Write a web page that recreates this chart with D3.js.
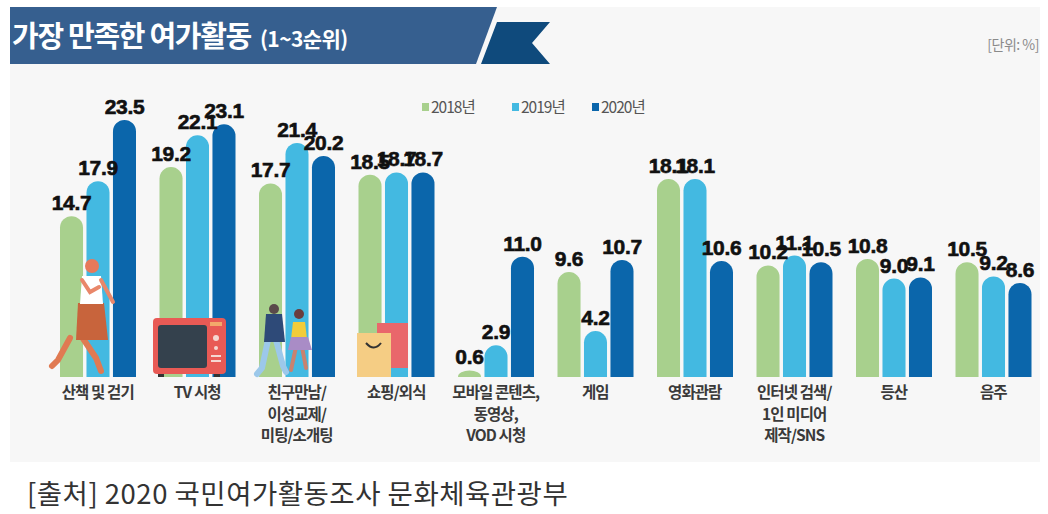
<html>
<head>
<meta charset="utf-8">
<style>
  body { margin: 0; background: #fff; }
  text { font-family: "Noto Sans CJK KR", "Noto Sans", sans-serif; }
</style>
</head>
<body>
<script src="https://d3js.org/d3.v7.min.js"></script>
<div id="main"></div>
<script>
// data
const categories = [
  ["산책 및 걷기"],
  ["TV 시청"],
  ["친구만남/", "이성교제/", "미팅/소개팅"],
  ["쇼핑/외식"],
  ["모바일 콘텐츠,", "동영상,", "VOD 시청"],
  ["게임"],
  ["영화관람"],
  ["인터넷 검색/", "1인 미디어", "제작/SNS"],
  ["등산"],
  ["음주"]
];
const years = ["2018년", "2019년", "2020년"];
const v2018 = [14.7, 19.2, 17.7, 18.5, 0.6, 9.6, 18.1, 10.2, 10.8, 10.5];
const v2019 = [17.9, 22.1, 21.4, 18.7, 2.9, 4.2, 18.1, 11.1, 9.0, 9.2];
const v2020 = [23.5, 23.1, 20.2, 18.7, 11.0, 10.7, 10.6, 10.5, 9.1, 8.6];
const colors = ["#a8d08d", "#43b9e1", "#0b66ab"];

const W = 1048, H = 514;
const baseY = 377;

const svg = d3.select("#main").append("svg")
  .attr("width", W).attr("height", H);

// grey panel
svg.append("rect").attr("x", 10).attr("y", 7).attr("width", 1030).attr("height", 455)
  .attr("fill", "#f7f7f7");

// title banner
svg.append("polygon").attr("points", "10,7 497,7 476,64 10,64").attr("fill", "#365f8f");
svg.append("polygon").attr("points", "497,22 550,22 532,43 550,64 481,64").attr("fill", "#0f4a7c");
svg.append("text").attr("x", 12).attr("y", 47)
  .attr("fill", "#fff").attr("font-size", 29).attr("font-weight", 700)
  .attr("letter-spacing", -1.3)
  .text("가장 만족한 여가활동")
  .append("tspan").attr("font-size", 21).attr("dx", 9).attr("letter-spacing", -0.6).text("(1~3순위)");

svg.append("text").attr("x", 1039).attr("y", 50).attr("text-anchor", "end")
  .attr("fill", "#8a8a8a").attr("font-size", 14).attr("letter-spacing", -0.5)
  .text("[단위: %]");

// scales
const x = d3.scaleBand().domain(d3.range(categories.length)).range([48, 1043]);
const xs = d3.scaleBand().domain([0, 1, 2]).range([12, 88]).paddingInner(0.13);
const y = d3.scaleLinear().domain([0, 23.5]).range([baseY, 120]);

// legend
const legX = [422, 512, 592];
const leg = svg.append("g");
years.forEach((yr, i) => {
  leg.append("rect").attr("x", legX[i]).attr("y", 103).attr("width", 7).attr("height", 8).attr("fill", colors[i]);
  leg.append("text").attr("x", legX[i] + 9).attr("y", 113)
    .attr("font-size", 15.5).attr("fill", "#555").attr("letter-spacing", -1)
    .text(yr);
});

// bars
const series = [v2018, v2019, v2020];
function barPath(x0, w, v) {
  const top = y(v), h = baseY - top;
  const r = w / 2, ry = Math.min(r, h);
  return `M${x0},${baseY} L${x0},${top + ry} A${r},${ry} 0 0 1 ${x0 + w},${top + ry} L${x0 + w},${baseY} Z`;
}
const bars = svg.append("g");
series.forEach((vals, s) => {
  bars.selectAll(null).data(vals).enter().append("path")
    .attr("d", (d, i) => barPath(x(i) + xs(s), xs.bandwidth(), d))
    .attr("fill", colors[s]);
});

// illustrations on top of bars
const pic = svg.append("g");
// walking man
pic.append("path").attr("d", "M70,338 L58,360 L52,366 M82,337 L96,358 L101,371")
  .attr("stroke", "#e07a52").attr("stroke-width", 6).attr("fill", "none").attr("stroke-linecap", "round");
pic.append("path").attr("d", "M78,303 L104,303 L108,340 L76,340 Z").attr("fill", "#c8643c");
pic.append("path").attr("d", "M82,276 L101,276 L103,304 L80,304 Z").attr("fill", "#fff");
pic.append("circle").attr("cx", 92).attr("cy", 266).attr("r", 7).attr("fill", "#e7795a");
pic.append("path").attr("d", "M101,280 L113,302 M82,280 L90,292 L99,287")
  .attr("stroke", "#e9876a").attr("stroke-width", 4).attr("fill", "none").attr("stroke-linecap", "round");

// TV / microwave
pic.append("rect").attr("x", 153).attr("y", 318).attr("width", 73).attr("height", 56).attr("rx", 4).attr("fill", "#e85a55");
pic.append("rect").attr("x", 158).attr("y", 325).attr("width", 49).attr("height", 43).attr("rx", 3).attr("fill", "#34414d");
pic.append("circle").attr("cx", 216).attr("cy", 338).attr("r", 3).attr("fill", "#f5d7d2");
pic.append("circle").attr("cx", 216).attr("cy", 348).attr("r", 2).attr("fill", "#f5d7d2");
pic.append("rect").attr("x", 211).attr("y", 355).attr("width", 10).attr("height", 2).attr("fill", "#f5d7d2");
pic.append("rect").attr("x", 211).attr("y", 360).attr("width", 10).attr("height", 2).attr("fill", "#f5d7d2");
pic.append("rect").attr("x", 210).attr("y", 322).attr("width", 12).attr("height", 4).attr("fill", "#f3a96b");
pic.append("rect").attr("x", 158).attr("y", 374).attr("width", 6).attr("height", 3).attr("fill", "#333");
pic.append("rect").attr("x", 214).attr("y", 374).attr("width", 6).attr("height", 3).attr("fill", "#333");

// couple
pic.append("path").attr("d", "M268,340 L262,368 L257,374 M276,340 L283,366 L286,372")
  .attr("stroke", "#9cc8ea").attr("stroke-width", 6).attr("fill", "none").attr("stroke-linecap", "round");
pic.append("path").attr("d", "M266,314 L282,314 L285,342 L264,342 Z").attr("fill", "#2e4a78");
pic.append("circle").attr("cx", 274).attr("cy", 309).attr("r", 5).attr("fill", "#5a4a4a");
pic.append("path").attr("d", "M296,347 L291,370 M302,347 L306,368")
  .attr("stroke", "#c9826f").attr("stroke-width", 4).attr("fill", "none").attr("stroke-linecap", "round");
pic.append("path").attr("d", "M293,322 L305,322 L307,339 L291,339 Z").attr("fill", "#f2cc3a");
pic.append("path").attr("d", "M291,337 L308,337 L312,350 L288,350 Z").attr("fill", "#a98cc6");
pic.append("circle").attr("cx", 299).attr("cy", 314).attr("r", 5).attr("fill", "#6a3d3d");

// shopping bags
pic.append("rect").attr("x", 377).attr("y", 323).attr("width", 31).attr("height", 45).attr("fill", "#e9676b");
pic.append("rect").attr("x", 357).attr("y", 333).attr("width", 34).attr("height", 44).attr("fill", "#f5cd84");
pic.append("path").attr("d", "M366,343 Q374,352 381,343").attr("stroke", "#333").attr("stroke-width", 2).attr("fill", "none");

// value labels
const labels = svg.append("g");
series.forEach((vals, s) => {
  labels.selectAll(null).data(vals).enter().append("text")
    .attr("x", (d, i) => x(i) + xs(s) + xs.bandwidth() / 2)
    .attr("y", d => y(d) - 6)
    .attr("text-anchor", "middle")
    .style("font-family", "'Liberation Sans', Arial, sans-serif")
    .attr("font-size", 21).attr("font-weight", 700).attr("fill", "#111")
    .attr("stroke", "#111").attr("stroke-width", 0.6)
    .attr("letter-spacing", -0.3)
    .text(d => d.toFixed(1));
});

// category labels
const cat = svg.append("g");
categories.forEach((lines, i) => {
  const t = cat.append("text")
    .attr("x", x(i) + x.bandwidth() / 2).attr("y", 398)
    .attr("text-anchor", "middle").attr("font-size", 15.5).attr("font-weight", 700)
    .attr("fill", "#3a3a3a").attr("letter-spacing", -0.9);
  lines.forEach((ln, k) => {
    t.append("tspan").attr("x", x(i) + x.bandwidth() / 2).attr("dy", k ? 21.5 : 0).text(ln);
  });
});

// source
svg.append("text").attr("x", 27).attr("y", 504)
  .attr("font-size", 27.5).attr("fill", "#333").attr("letter-spacing", 0.5)
  .text("[출처] 2020 국민여가활동조사 문화체육관광부");
</script>
</body>
</html>
